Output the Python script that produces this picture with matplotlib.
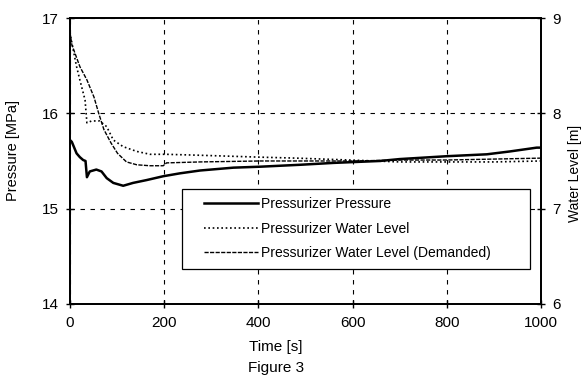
import matplotlib
matplotlib.use("Agg")
import numpy as np
import matplotlib.pyplot as plt
from matplotlib.legend_handler import HandlerLine2D

plt.rcParams['font.family'] = ['Liberation Sans', 'DejaVu Sans']

# Pressurizer pressure [MPa]
t_p = [0, 4, 14, 21, 28, 33, 36, 42, 56, 67, 78, 92, 113, 134, 163, 198, 233, 276,
       347, 404, 488, 560, 658, 700, 800, 885, 934, 991, 1000]
p = [15.72, 15.70, 15.58, 15.54, 15.51, 15.50, 15.33, 15.39, 15.41, 15.39, 15.32,
     15.27, 15.24, 15.27, 15.30, 15.34, 15.37, 15.40, 15.43, 15.44, 15.46, 15.48,
     15.50, 15.52, 15.55, 15.57, 15.60, 15.64, 15.64]

# Pressurizer water level [m]
t_l = [0, 4, 14, 21, 32, 36, 46, 63, 78, 92, 113, 142, 170, 205, 276, 404, 480,
       594, 700, 800, 900, 1000]
lvl = [8.85, 8.74, 8.49, 8.35, 8.14, 7.90, 7.92, 7.92, 7.86, 7.72, 7.65, 7.60,
       7.57, 7.57, 7.56, 7.54, 7.53, 7.51, 7.49, 7.49, 7.49, 7.50]

# Pressurizer water level demanded [m]
t_d = [0, 4, 21, 36, 51, 61, 72, 87, 101, 120, 142, 170, 198, 205, 276, 404,
       488, 600, 700, 800, 900, 1000]
dem = [8.85, 8.72, 8.49, 8.35, 8.17, 8.00, 7.83, 7.69, 7.58, 7.49, 7.46, 7.45,
       7.45, 7.48, 7.49, 7.50, 7.50, 7.50, 7.51, 7.51, 7.52, 7.53]

xticks = [0, 200, 400, 600, 800, 1000]
pticks = [14, 15, 16, 17]
lticks = [6, 7, 8, 9]


class OffsetHandler(HandlerLine2D):
    """Legend line drawn only over the right part of the handle box."""
    def get_xdata(self, legend, xdescent, ydescent, width, height, fontsize):
        x0 = -xdescent + 0.2 * width
        x1 = -xdescent + width
        xd = np.array([x0, x1])
        return xd, xd


fig = plt.figure(figsize=(5.88, 3.79), dpi=100)
ax = fig.add_axes([0.119, 0.198, 0.801, 0.7545])
ax2 = ax.twinx()

l1, = ax.plot(t_p, p, color='black', lw=1.8, label='Pressurizer Pressure')
l2, = ax2.plot(t_l, lvl, color='black', lw=1.2, linestyle=(0, (1, 1.6)),
               label='Pressurizer Water Level')
l3, = ax2.plot(t_d, dem, color='black', lw=1.0, linestyle=(0, (3, 1)),
               label='Pressurizer Water Level (Demanded)')

ax.set_xlim(0, 1000)
ax.set_ylim(14, 17)
ax2.set_ylim(6, 9)
ax.set_xticks(xticks)
ax.set_yticks(pticks)
ax2.set_yticks(lticks)

for a in (ax, ax2):
    a.tick_params(direction='inout', length=6, width=1, labelsize=11,
                  colors='black')
    for s in a.spines.values():
        s.set_linewidth(1.3)
ax.tick_params(axis='x', pad=6)
ax.tick_params(axis='y', pad=5)
ax2.tick_params(axis='y', pad=5)

ax.grid(True, color='black', lw=0.8, linestyle=(0, (4, 5)))

ax.set_ylabel('Pressure [MPa]', fontsize=10.5, va='center')
ax.yaxis.set_label_coords(-0.121, 0.538)
ax2.set_ylabel('Water Level [m]', fontsize=10, rotation=90, va='center')
ax2.yaxis.set_label_coords(1.072, 0.455)

ax.set_xlabel('Time [s]', fontsize=11, va='center')
ax.xaxis.set_label_coords(0.437, -0.150)
fig.text(276 / 588, 1 - 368 / 379, 'Figure 3', fontsize=11, ha='center',
         va='center')

hmap = {l1: OffsetHandler(), l2: OffsetHandler(), l3: OffsetHandler()}
leg = ax.legend(handles=[l1, l2, l3], loc='upper left',
                bbox_to_anchor=(0.238, 0.0, 0.739, 0.402), mode='expand',
                fontsize=10, frameon=True, fancybox=False, handlelength=4.9,
                borderaxespad=0, borderpad=0.6, handletextpad=0.2,
                labelspacing=0.75, handler_map=hmap)
leg.get_frame().set_edgecolor('black')
leg.get_frame().set_linewidth(0.9)
leg.get_frame().set_alpha(1)
leg.set_zorder(5)

fig.savefig('out.png', dpi=100)
